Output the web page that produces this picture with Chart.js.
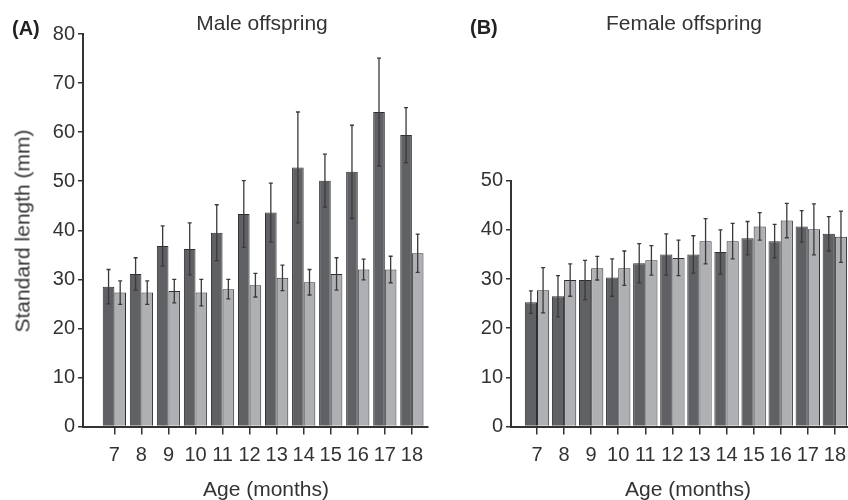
<!DOCTYPE html>
<html>
<head>
<meta charset="utf-8">
<script src="https://cdn.jsdelivr.net/npm/chart.js@4/dist/chart.umd.min.js"></script>
<style>
  html, body { margin: 0; padding: 0; background: #fff; overflow: hidden; }
  #wrap { position: relative; width: 848px; height: 500px; overflow: hidden; font-family: "Liberation Sans", Arial, sans-serif; color: #333; }
  canvas { position: absolute; top: 0; }
  .txt { position: absolute; white-space: nowrap; font-size: 21px; line-height: 1; }
  .panel { font-weight: bold; font-size: 20px; color: #222; }
</style>
</head>
<body>
<div id="wrap">
  <canvas id="chartA" style="left:0px"></canvas>
  <canvas id="chartB" style="left:424px"></canvas>
  <div class="txt panel" style="left:12px; top:18px;">(A)</div>
  <div class="txt panel" style="left:470px; top:17px;">(B)</div>
  <div class="txt" style="left:262px; top:12px; transform:translateX(-50%);">Male offspring</div>
  <div class="txt" style="left:684px; top:12px; transform:translateX(-50%);">Female offspring</div>
  <div class="txt" style="left:266px; top:478px; transform:translateX(-50%);">Age (months)</div>
  <div class="txt" style="left:688px; top:478px; transform:translateX(-50%);">Age (months)</div>
  <div class="txt" style="left:22px; top:231px; transform:translate(-50%,-50%) rotate(-90deg);">Standard length (mm)</div>
</div>
<script>
// ages on the x axis
const ages = [7, 8, 9, 10, 11, 12, 13, 14, 15, 16, 17, 18];

// male offspring, mean and SD (mm)
const maleDark = [28.5, 31.1, 36.8, 36.2, 39.5, 43.3, 43.6, 52.8, 50.1, 51.9, 64.1, 59.4];
const maleDarkSd = [3.5, 3.3, 4.1, 5.3, 5.7, 6.8, 6.0, 11.3, 5.4, 9.5, 11.0, 5.6];
const maleLight = [27.3, 27.3, 27.6, 27.3, 28.0, 28.8, 30.3, 29.4, 31.1, 32.0, 32.0, 35.3];
const maleLightSd = [2.4, 2.4, 2.4, 2.7, 2.0, 2.4, 2.6, 2.6, 3.3, 2.1, 2.7, 3.9];

// female offspring, mean and SD (mm)
const femaleDark = [25.3, 26.5, 29.8, 30.3, 33.2, 35.0, 35.0, 35.5, 38.3, 37.7, 40.7, 39.2];
const femaleDarkSd = [2.3, 4.2, 4.0, 3.8, 4.0, 4.2, 3.8, 4.5, 3.4, 3.4, 3.2, 3.5];
const femaleLight = [27.7, 29.8, 32.2, 32.2, 33.8, 34.3, 37.7, 37.7, 40.7, 41.9, 40.1, 38.6];
const femaleLightSd = [4.6, 3.3, 2.4, 3.5, 3.0, 3.6, 4.6, 3.6, 2.8, 3.5, 5.2, 5.2];

const darkFill = '#606165';
const lightFill = '#afb0b4';
const edge = '#2f2f31';
const axisColor = '#333';

// draws mean +/- SD whiskers on top of every bar
const errorBars = {
  id: 'errorBars',
  afterDatasetsDraw(chart) {
    const ctx = chart.ctx;
    const y = chart.scales.y;
    ctx.save();
    ctx.strokeStyle = '#3a3a3c';
    ctx.lineWidth = 1.3;
    chart.data.datasets.forEach((ds, i) => {
      const meta = chart.getDatasetMeta(i);
      meta.data.forEach((bar, j) => {
        const m = ds.data[j].y;
        const sd = ds.sd[j];
        const top = y.getPixelForValue(m + sd);
        const bot = y.getPixelForValue(m - sd);
        ctx.beginPath();
        ctx.moveTo(bar.x, top);
        ctx.lineTo(bar.x, bot);
        ctx.moveTo(bar.x - 2, top);
        ctx.lineTo(bar.x + 2, top);
        ctx.moveTo(bar.x - 2, bot);
        ctx.lineTo(bar.x + 2, bot);
        ctx.stroke();
      });
    });
    ctx.restore();
  }
};

function makeSet(values, sd, color, pct) {
  return {
    data: ages.map((a, i) => ({ x: a, y: values[i] })),
    sd: sd,
    backgroundColor: color,
    borderColor: edge,
    borderWidth: 1,
    categoryPercentage: pct,
    barPercentage: 1
  };
}

function makeChart(id, w, cfg) {
  const canvas = document.getElementById(id);
  canvas.width = w;
  canvas.height = 500;
  canvas.style.width = w + 'px';
  canvas.style.height = '500px';
  return new Chart(canvas, {
    type: 'bar',
    data: {
      datasets: [
        makeSet(cfg.dark, cfg.darkSd, darkFill, cfg.pct),
        makeSet(cfg.light, cfg.lightSd, lightFill, cfg.pct)
      ]
    },
    options: {
      responsive: false,
      animation: false,
      layout: { padding: { top: cfg.top, right: 0, bottom: 0, left: 0 } },
      plugins: { legend: { display: false }, tooltip: { enabled: false } },
      scales: {
        x: {
          type: 'linear',
          offset: false,
          min: cfg.xmin,
          max: cfg.xmax,
          afterBuildTicks: s => { s.ticks = ages.map(v => ({ value: v })); },
          afterFit: s => { s.height = 73.5; },
          grid: { offset: false, drawOnChartArea: false, drawTicks: true, tickLength: 8, color: axisColor, lineWidth: 1.5 },
          border: { color: axisColor, width: 2 },
          ticks: { color: '#333', font: { family: 'Liberation Sans', size: 20 }, padding: 9, maxRotation: 0, autoSkip: false }
        },
        y: {
          min: 0,
          max: cfg.ymax,
          afterFit: s => { s.width = cfg.yw; },
          grid: { drawOnChartArea: false, drawTicks: true, tickLength: 5, color: axisColor, lineWidth: 1.5 },
          border: { color: axisColor, width: 2 },
          ticks: { stepSize: 10, color: '#333', font: { family: 'Liberation Sans', size: 20 }, padding: 3 }
        }
      }
    },
    plugins: [errorBars]
  });
}

makeChart('chartA', 432, {
  dark: maleDark, darkSd: maleDarkSd, light: maleLight, lightSd: maleLightSd,
  ymax: 80, top: 34, yw: 83, xmin: 5.84, xmax: 18.6, pct: 0.86
});

makeChart('chartB', 431, {
  dark: femaleDark, darkSd: femaleDarkSd, light: femaleLight, lightSd: femaleLightSd,
  ymax: 50, top: 180.7, yw: 87, xmin: 6.04, xmax: 18.6, pct: 0.9
});
</script>
</body>
</html>
